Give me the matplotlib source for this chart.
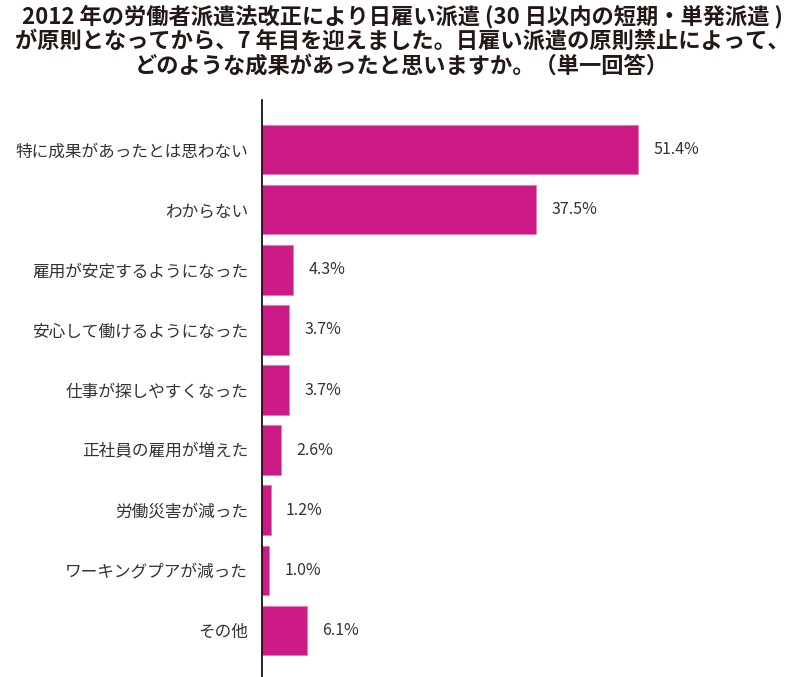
import matplotlib.pyplot as plt

plt.rcParams['font.family'] = ['Noto Sans CJK JP', 'DejaVu Sans']

# 回答項目と割合(%)
項目 = ["特に成果があったとは思わない", "わからない", "雇用が安定するようになった",
      "安心して働けるようになった", "仕事が探しやすくなった", "正社員の雇用が増えた",
      "労働災害が減った", "ワーキングプアが減った", "その他"]
割合 = [51.4, 37.5, 4.3, 3.7, 3.7, 2.6, 1.2, 1.0, 6.1]

タイトル = ("2012 年の労働者派遣法改正により日雇い派遣 (30 日以内の短期・単発派遣 )\n"
         "が原則となってから、7 年目を迎えました。日雇い派遣の原則禁止によって、\n"
         "どのような成果があったと思いますか。（単一回答）")

W, H = 804, 677
fig = plt.figure(figsize=(W / 100, H / 100), dpi=100)
ax = fig.add_axes([262 / W, 0, (W - 262) / W, (H - 100) / H])

y = list(range(len(項目)))
ax.barh(y, 割合, height=0.82, color='#cc1a86', edgecolor='#e07ab5', linewidth=0.6)

ax.set_xlim(0, (W - 262) / 7.315)
ax.set_ylim(8.78, -0.83)

for yi, v in zip(y, 割合):
    ax.annotate(f"{v}%", (v, yi), xytext=(11, 0), textcoords='offset points',
                va='center', ha='left', fontsize=11.5, color='#333333')

ax.set_yticks(y)
ax.set_yticklabels(項目, fontsize=12, color='#333333')
ax.tick_params(axis='y', length=0, pad=10)
ax.set_xticks([])
for s in ['top', 'right', 'bottom']:
    ax.spines[s].set_visible(False)
ax.spines['left'].set_linewidth(1.2)
ax.spines['left'].set_color('black')

fig.text(0.5, 1 - 41 / H, タイトル, ha='center', va='center', fontsize=16,
         fontweight='bold', color='#231815', linespacing=1.08)

fig.savefig('out.png', dpi=100)
